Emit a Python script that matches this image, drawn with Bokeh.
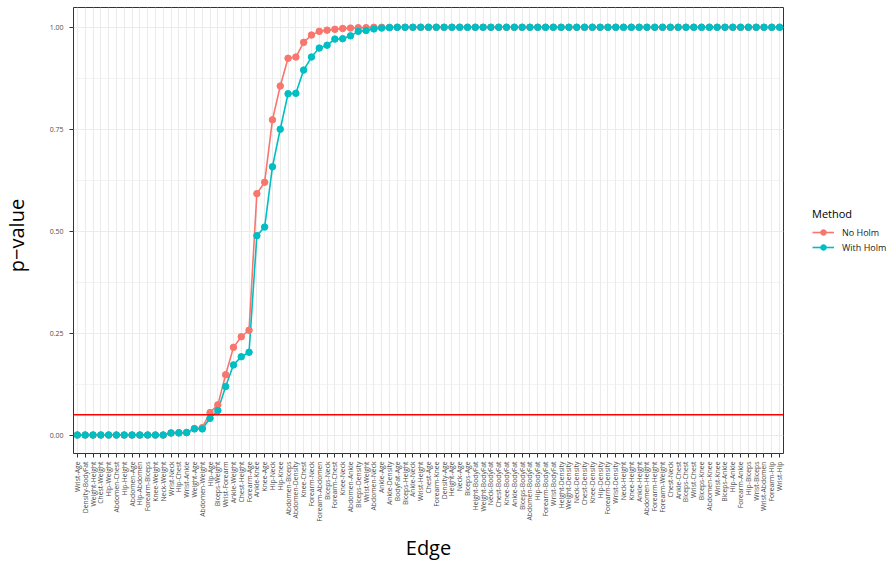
import math
from bokeh.plotting import figure
from bokeh.models import (FactorRange, Range1d, FixedTicker, Legend, LegendItem,
                          Label, Span, PrintfTickFormatter)
from bokeh.embed import file_html
from bokeh.resources import INLINE

edges = [
    "Wrist-Age", "Density-BodyFat", "Weight-Height", "Chest-Weight", "Hip-Weight",
    "Abdomen-Chest", "Hip-Height", "Abdomen-Age", "Hip-Abdomen", "Forearm-Biceps",
    "Knee-Weight", "Neck-Weight", "Wrist-Neck", "Hip-Chest", "Wrist-Ankle",
    "Weight-Age", "Abdomen-Weight", "Hip-Age", "Biceps-Weight", "Wrist-Forearm",
    "Ankle-Weight", "Chest-Height", "Forearm-Age", "Ankle-Knee", "Knee-Age",
    "Hip-Neck", "Hip-Knee", "Abdomen-Biceps", "Abdomen-Density", "Knee-Chest",
    "Forearm-Neck", "Forearm-Abdomen", "Biceps-Neck", "Forearm-Chest", "Knee-Neck",
    "Abdomen-Ankle", "Biceps-Density", "Wrist-Weight", "Abdomen-Neck", "Ankle-Age",
    "Ankle-Density", "BodyFat-Age", "Biceps-Height", "Ankle-Neck", "Wrist-Height",
    "Chest-Age", "Forearm-Knee", "Density-Age", "Height-Age", "Neck-Age",
    "Biceps-Age", "Height-BodyFat", "Weight-BodyFat", "Neck-BodyFat", "Chest-BodyFat",
    "Knee-BodyFat", "Ankle-BodyFat", "Biceps-BodyFat", "Abdomen-BodyFat", "Hip-BodyFat",
    "Forearm-BodyFat", "Wrist-BodyFat", "Height-Density", "Weight-Density", "Neck-Density",
    "Chest-Density", "Knee-Density", "Hip-Density", "Forearm-Density", "Wrist-Density",
    "Neck-Height", "Knee-Height", "Ankle-Height", "Abdomen-Height", "Forearm-Height",
    "Forearm-Weight", "Chest-Neck", "Ankle-Chest", "Biceps-Chest", "Wrist-Chest",
    "Biceps-Knee", "Abdomen-Knee", "Wrist-Knee", "Biceps-Ankle", "Hip-Ankle",
    "Forearm-Ankle", "Hip-Biceps", "Wrist-Biceps", "Wrist-Abdomen", "Forearm-Hip",
    "Wrist-Hip",
]

no_holm = [
    0.0, 0.0, 0.0, 0.0, 0.0, 0.0, 0.0, 0.0, 0.0, 0.0,
    0.0, 0.0, 0.005, 0.006, 0.006, 0.016, 0.018, 0.055, 0.074, 0.148,
    0.215, 0.241, 0.257, 0.592, 0.620, 0.773, 0.856, 0.924, 0.927, 0.963,
    0.981, 0.990, 0.993, 0.995, 0.997, 0.998, 0.999, 0.999, 1.0, 1.0,
    1.0, 1.0, 1.0, 1.0, 1.0, 1.0, 1.0, 1.0, 1.0, 1.0,
    1.0, 1.0, 1.0, 1.0, 1.0, 1.0, 1.0, 1.0, 1.0, 1.0,
    1.0, 1.0, 1.0, 1.0, 1.0, 1.0, 1.0, 1.0, 1.0, 1.0,
    1.0, 1.0, 1.0, 1.0, 1.0, 1.0, 1.0, 1.0, 1.0, 1.0,
    1.0, 1.0, 1.0, 1.0, 1.0, 1.0, 1.0, 1.0, 1.0, 1.0,
    1.0,
]

with_holm = [
    0.0, 0.0, 0.0, 0.0, 0.0, 0.0, 0.0, 0.0, 0.0, 0.0,
    0.0, 0.0, 0.005, 0.005, 0.006, 0.015, 0.015, 0.041, 0.060, 0.119,
    0.172, 0.192, 0.203, 0.489, 0.510, 0.658, 0.750, 0.837, 0.838, 0.895,
    0.927, 0.949, 0.956, 0.971, 0.972, 0.979, 0.990, 0.992, 0.996, 0.998,
    0.999, 1.0, 1.0, 1.0, 1.0, 1.0, 1.0, 1.0, 1.0, 1.0,
    1.0, 1.0, 1.0, 1.0, 1.0, 1.0, 1.0, 1.0, 1.0, 1.0,
    1.0, 1.0, 1.0, 1.0, 1.0, 1.0, 1.0, 1.0, 1.0, 1.0,
    1.0, 1.0, 1.0, 1.0, 1.0, 1.0, 1.0, 1.0, 1.0, 1.0,
    1.0, 1.0, 1.0, 1.0, 1.0, 1.0, 1.0, 1.0, 1.0, 1.0,
    1.0,
]

y_ticks = [0.0, 0.25, 0.5, 0.75, 1.0]
y_minor = [0.125, 0.375, 0.625, 0.875]
alpha_level = 0.05

RED = "#F8766D"
TEAL = "#00BFC4"
FONT = "Open Sans"

p = figure(
    x_range=FactorRange(factors=edges, range_padding=0),
    y_range=Range1d(-0.0453, 1.0485),
    frame_width=710, frame_height=446,
    min_border_left=73, min_border_top=7, min_border_right=110, min_border_bottom=108,
    output_backend="svg", toolbar_location=None,
    background_fill_color="white", border_fill_color="white",
)

r_line = p.line(x=edges, y=no_holm, line_color=RED, line_width=1.6)
t_line = p.line(x=edges, y=with_holm, line_color=TEAL, line_width=1.6)
r_pts = p.scatter(x=edges, y=no_holm, size=6.5, fill_color=RED, line_color=RED)
t_pts = p.scatter(x=edges, y=with_holm, size=6.5, fill_color=TEAL, line_color=TEAL)

p.add_layout(Span(location=alpha_level, dimension="width", line_color="#FF0000", line_width=1.5))

# grid
p.xgrid.grid_line_color = "#EBEBEB"
p.xgrid.grid_line_width = 1.1
p.ygrid.grid_line_color = "#EBEBEB"
p.ygrid.grid_line_width = 1.1
p.ygrid.minor_grid_line_color = "#EBEBEB"
p.ygrid.minor_grid_line_width = 0.6

p.outline_line_color = "#333333"
p.outline_line_width = 1

# axes
p.yaxis.ticker = FixedTicker(ticks=y_ticks, minor_ticks=y_minor)
p.yaxis.formatter = PrintfTickFormatter(format="%.2f")
p.axis.axis_line_color = None
p.axis.major_tick_line_color = "#333333"
p.axis.major_tick_out = 4
p.axis.major_tick_in = 0
p.axis.minor_tick_line_color = None
p.axis.major_label_text_color = "#4D4D4D"
p.axis.major_label_text_font = FONT
p.yaxis.major_label_text_font_size = "7px"
p.yaxis.major_label_standoff = 6
p.xaxis.major_label_text_font_size = "6.8px"
p.xaxis.major_label_orientation = math.pi / 2
p.xaxis.major_label_standoff = 4

p.xaxis.axis_label = "Edge"
p.xaxis.axis_label_text_font = FONT
p.xaxis.axis_label_text_font_size = "20px"
p.xaxis.axis_label_text_font_style = "normal"
p.xaxis.axis_label_text_color = "#000000"
p.xaxis.axis_label_standoff = 9

# y axis title in the left side panel
p.add_layout(Label(x=10.5, y=218, x_units="screen", y_units="screen", text="p\u2212value",
                   angle=math.pi / 2, text_align="center",
                   text_font=FONT, text_font_style="normal", text_font_size="20px",
                   text_color="#000000"), "left")

legend = Legend(
    items=[LegendItem(label="No Holm", renderers=[r_line, r_pts]),
           LegendItem(label="With Holm", renderers=[t_line, t_pts])],
    title="Method", location="center_left",
    title_text_font=FONT, title_text_font_size="11px", title_text_color="#000000",
    title_text_font_style="normal", title_standoff=4,
    label_text_font=FONT, label_text_font_size="9px", label_text_color="#1A1A1A",
    glyph_width=22, glyph_height=14, label_standoff=8, spacing=1,
    padding=0, margin=29, border_line_color=None, background_fill_alpha=0,
)
p.add_layout(legend, "right")

open("out.html", "w").write(file_html(p, INLINE))
